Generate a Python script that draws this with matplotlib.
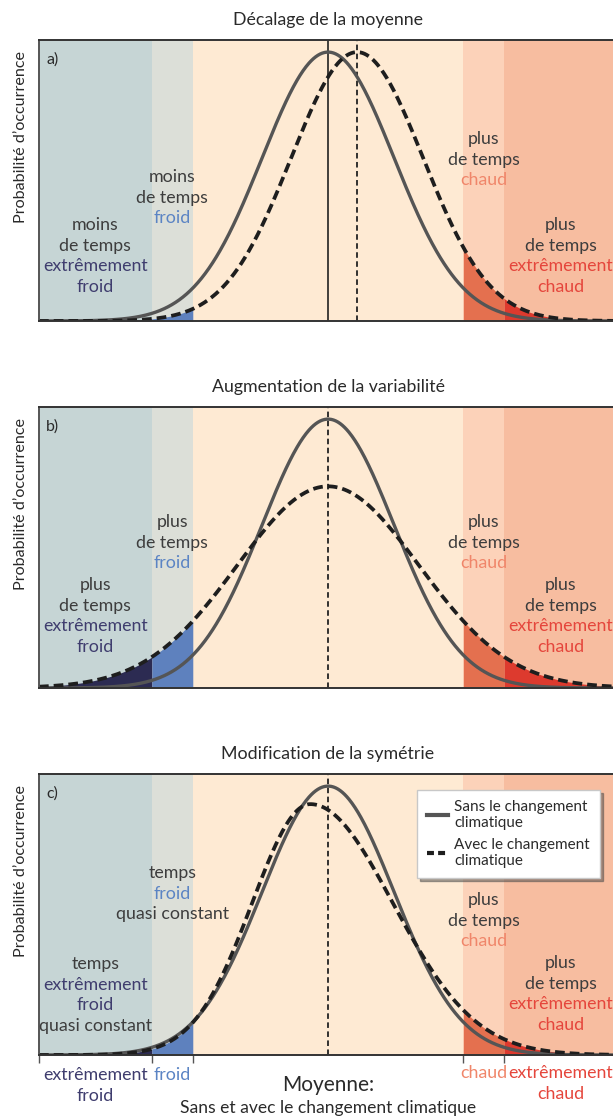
import numpy as np
import matplotlib.pyplot as plt
from matplotlib.transforms import blended_transform_factory
from matplotlib.lines import Line2D

plt.rcParams['font.family'] = ['Lato', 'DejaVu Sans']
plt.rcParams['lines.scale_dashes'] = False

# temperature bands (x in units of the spread of the reference curve)
band_edges = [-4.38, -2.67, -2.05, 2.05, 2.67, 4.8]
band_colors = ['#c6d5d5', '#dcdfd8', '#feead3', '#fcd2b9', '#f7bda0']
fill_colors = ['#2c2b52', '#5e81be', None, '#e4704f', '#dd3a2e']

titles = ['Décalage de la moyenne', 'Augmentation de la variabilité',
          'Modification de la symétrie']
tags = ['a)', 'b)', 'c)']

# curves: centre, left spread, right spread, peak height
base_curve = (0.0, 1.0, 1.0, 1.0)
changed_curves = [(0.44, 1.0, 1.0, 1.0),
                  (0.0, 1.38, 1.38, 0.75),
                  (-0.27, 0.88, 1.25, 0.933)]

cols = {'dark': '#3d3d3d', 'navy': '#3f3d6e', 'blue': '#5b84c4',
        'salmon': '#f0866a', 'red': '#e5463c'}

left_texts = [
    [('moins', 'dark'), ('de temps', 'dark'), ('extrêmement', 'navy'), ('froid', 'navy')],
    [('plus', 'dark'), ('de temps', 'dark'), ('extrêmement', 'navy'), ('froid', 'navy')],
    [('temps', 'dark'), ('extrêmement', 'navy'), ('froid', 'navy'), ('quasi constant', 'dark')],
]
cold_texts = [
    [('moins', 'dark'), ('de temps', 'dark'), ('froid', 'blue')],
    [('plus', 'dark'), ('de temps', 'dark'), ('froid', 'blue')],
    [('temps', 'dark'), ('froid', 'blue'), ('quasi constant', 'dark')],
]
warm_texts = [[('plus', 'dark'), ('de temps', 'dark'), ('chaud', 'salmon')]] * 3
hot_texts = [[('plus', 'dark'), ('de temps', 'dark'), ('extrêmement', 'red'), ('chaud', 'red')]] * 3

# first line of each block, pixels from the top of the image
left_top = [225, 585, 964]
cold_top = [177, 522, 873]
warm_top = [139, 522, 900]
hot_top = [225, 585, 963]

W, H = 613, 1117
ax_top = [40, 407, 774]
ax_h = 281
px_unit = 66.0
xlim = (-4.38, 4.6)
ylim = (0, 1.045)


def curve(x, p):
    m, sl, sr, h = p
    s = np.where(x < m, sl, sr)
    return h * np.exp(-((x - m) / s) ** 2 / 2)


def block(ax, fig, xc, ytop, lines, step=20.7, size=12.8):
    tr = blended_transform_factory(ax.transData, fig.transFigure)
    for i, (txt, c) in enumerate(lines):
        ax.text(xc, 1 - (ytop + i * step) / H, txt, transform=tr, ha='center',
                va='center', fontsize=size, color=cols[c], zorder=10)


fig = plt.figure(figsize=(W / 100, H / 100), dpi=100)
x = np.linspace(xlim[0], xlim[1], 800)
left_mid = (band_edges[0] + band_edges[1]) / 2
cold_mid = (band_edges[1] + band_edges[2]) / 2
warm_mid = (band_edges[3] + band_edges[4]) / 2
hot_mid = band_edges[4] + (band_edges[1] - band_edges[0]) / 2

for k in range(3):
    ax = fig.add_axes([39 / W, 1 - (ax_top[k] + ax_h) / H,
                       (xlim[1] - xlim[0]) * px_unit / W, ax_h / H])
    ax.set_xlim(*xlim)
    ax.set_ylim(*ylim)
    for i in range(5):
        ax.axvspan(band_edges[i], band_edges[i + 1], color=band_colors[i], lw=0, zorder=0)
        if fill_colors[i]:
            xs = np.linspace(band_edges[i], band_edges[i + 1], 200)
            ax.fill_between(xs, 0, curve(xs, changed_curves[k]), color=fill_colors[i],
                            lw=0, zorder=1)
    if k == 0:
        ax.axvline(base_curve[0], color='#222222', lw=1.2, zorder=2)
        ax.axvline(changed_curves[0][0], color='#222222', lw=1.3, dashes=(4, 2.5), zorder=2)
    else:
        ax.axvline(base_curve[0], color='#222222', lw=1.3, dashes=(4, 2.5), zorder=2)
    ax.plot(x, curve(x, base_curve), color='#555555', lw=2.4, zorder=4)
    ax.plot(x, curve(x, changed_curves[k]), color='#1e1e1e', lw=2.7, dashes=(7, 3.6),
            zorder=5)

    for sp in ['top', 'left', 'bottom']:
        ax.spines[sp].set_color('#333333')
        ax.spines[sp].set_linewidth(1.4)
        ax.spines[sp].set_zorder(6)
    ax.spines['left'].set_color('#555555')
    ax.set_yticks([])
    if k < 2:
        ax.set_xticks([])
    else:
        ax.set_xticks(band_edges[:5])
        ax.set_xticklabels([])
        ax.tick_params(axis='x', length=6, width=1, color='#555555', direction='out')

    ax.text(328 / W, 1 - (ax_top[k] - 20) / H, titles[k], transform=fig.transFigure,
            ha='center', va='center', fontsize=12.8, color='#2a2a2a')
    ax.text(0.012, 0.93, tags[k], transform=ax.transAxes, ha='left', va='center',
            fontsize=11.5, color='#2a2a2a')
    fig.text(21 / W, 1 - (ax_top[k] + 97) / H, 'Probabilité d’occurrence', rotation=90,
             ha='center', va='center', fontsize=11.6, color='#2a2a2a')

    block(ax, fig, left_mid, left_top[k], left_texts[k])
    block(ax, fig, cold_mid, cold_top[k], cold_texts[k])
    block(ax, fig, warm_mid, warm_top[k], warm_texts[k])
    block(ax, fig, hot_mid, hot_top[k], hot_texts[k])

    if k == 2:
        handles = [Line2D([], [], color='#555555', lw=3),
                   Line2D([], [], color='#1e1e1e', lw=3, dashes=(5, 3))]
        leg = ax.legend(handles, ['Sans le changement\nclimatique',
                                  'Avec le changement\nclimatique'],
                        loc='upper left',
                        bbox_to_anchor=((417 - 39) / ((xlim[1] - xlim[0]) * px_unit),
                                        (ax_top[k] + ax_h - 790) / ax_h),
                        borderaxespad=0, fontsize=11, handlelength=1.4, handletextpad=0.4,
                        labelspacing=0.5, borderpad=0.65, fancybox=False, shadow=True,
                        framealpha=1, edgecolor='#c8c8c8')
        leg.set_zorder(20)
        for t in leg.get_texts():
            t.set_color('#2a2a2a')

        block(ax, fig, left_mid, 1075, [('extrêmement', 'navy'), ('froid', 'navy')])
        block(ax, fig, cold_mid, 1075, [('froid', 'blue')])
        block(ax, fig, warm_mid, 1073, [('chaud', 'salmon')])
        block(ax, fig, hot_mid, 1073, [('extrêmement', 'red'), ('chaud', 'red')])
        ax.text(328 / W, 1 - 1085 / H, 'Moyenne:', transform=fig.transFigure,
                ha='center', va='center', fontsize=15, color='#2a2a2a')
        ax.text(328 / W, 1 - 1108 / H, 'Sans et avec le changement climatique',
                transform=fig.transFigure, ha='center', va='center', fontsize=12.6,
                color='#2a2a2a')

fig.savefig('out.png', dpi=100)
